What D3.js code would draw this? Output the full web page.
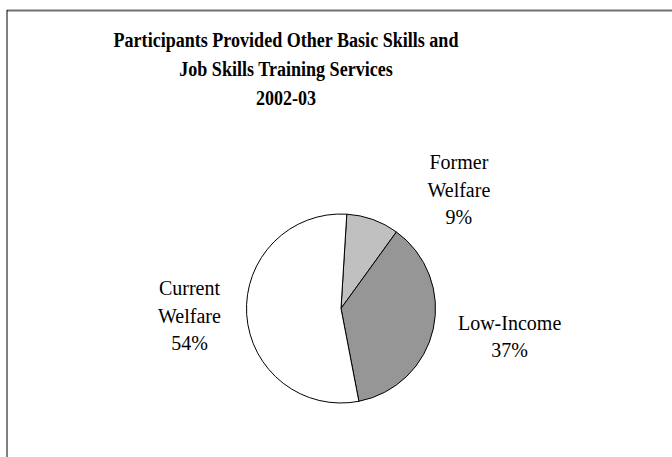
<!DOCTYPE html>
<html>
<head>
<meta charset="utf-8">
<script src="https://cdn.jsdelivr.net/npm/d3@7"></script>
<style>
  body { margin: 0; background: #fff; }
  svg { display: block; }
  text { font-family: "Liberation Serif", "Times New Roman", serif; }
</style>
</head>
<body>
<div id="chart"></div>
<script>
// chart data
var titleLines = ["Participants Provided Other Basic Skills and", "Job Skills Training Services", "2002-03"];
var categories = ["Former Welfare", "Low-Income", "Current Welfare"];
var shares = [9, 37, 54];
var fills = ["#C0C0C0", "#969696", "#FFFFFF"];
var labelLines = [["Former", "Welfare"], ["Low-Income"], ["Current", "Welfare"]];

var width = 672, height = 457;
var cx = 341, cy = 308.5, radius = 94.5;
var startDeg = 3.5; // first slice begins just right of 12 o'clock

// label placement: angle (deg, clockwise from top) and distance from centre
var labelAngle = [44.9, 99.6, 267.2];
var labelDist = [167, 171, 151.7];

var svg = d3.select('#chart').append('svg')
  .attr('width', width)
  .attr('height', height);

// frame
svg.append('line')
  .attr('x1', 7).attr('y1', 10.5).attr('x2', width).attr('y2', 10.5)
  .attr('stroke', '#707070').attr('stroke-width', 2);
svg.append('line')
  .attr('x1', 7).attr('y1', 10).attr('x2', 7).attr('y2', height)
  .attr('stroke', '#000').attr('stroke-width', 1);

// title (reference type is narrow and tall)
svg.append('g')
  .attr('transform', 'translate(286,0) scale(0.86,1)')
  .selectAll('text')
  .data(titleLines)
  .enter().append('text')
    .attr('x', 0)
    .attr('y', function (d, i) { return 47 + i * 29; })
    .attr('text-anchor', 'middle')
    .style('font-size', '21px')
    .style('font-weight', 'bold')
    .text(function (d) { return d; });

var pie = d3.pie()
  .sort(null)
  .startAngle(startDeg * Math.PI / 180)
  .endAngle((startDeg + 360) * Math.PI / 180);

var arc = d3.arc().innerRadius(0).outerRadius(radius);

var g = svg.append('g').attr('transform', 'translate(' + cx + ',' + cy + ')');

g.selectAll('path')
  .data(pie(shares))
  .enter().append('path')
    .attr('d', arc)
    .attr('fill', function (d, i) { return fills[i]; })
    .attr('stroke', '#000')
    .attr('stroke-width', 1);

// labels
var lineH = 27.5;
var lab = g.selectAll('g.lab')
  .data(categories)
  .enter().append('g')
    .attr('class', 'lab')
    .attr('transform', function (d, i) {
      var a = labelAngle[i] * Math.PI / 180;
      return 'translate(' + (Math.sin(a) * labelDist[i]) + ',' + (-Math.cos(a) * labelDist[i]) + ')';
    });

lab.each(function (d, i) {
  var lines = labelLines[i].concat([shares[i] + '%']);
  var top = -(lines.length - 1) * lineH / 2;
  d3.select(this).selectAll('text')
    .data(lines)
    .enter().append('text')
      .attr('x', 0)
      .attr('y', function (t, j) { return top + j * lineH; })
      .attr('dy', '0.33em')
      .attr('text-anchor', 'middle')
      .style('font-size', '20px')
      .text(function (t) { return t; });
});
</script>
</body>
</html>
